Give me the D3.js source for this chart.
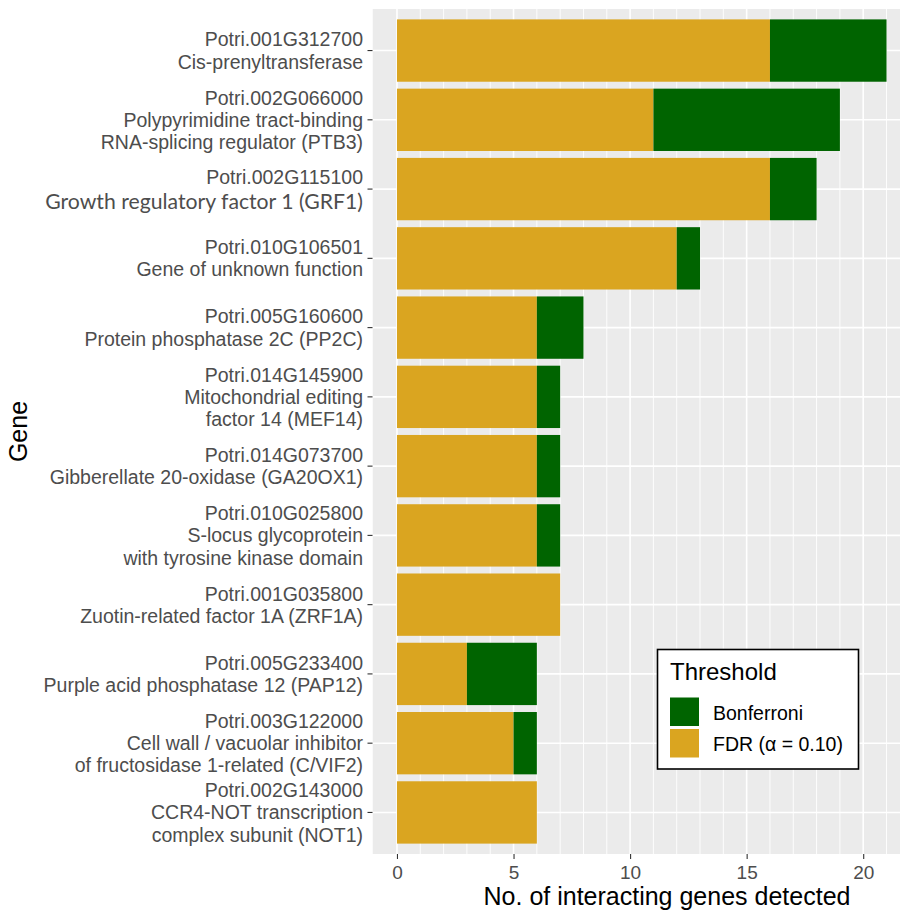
<!DOCTYPE html>
<html>
<head>
<meta charset="utf-8">
<script src="https://cdn.jsdelivr.net/npm/d3@7"></script>
<style>
  html, body { margin: 0; padding: 0; background: #fff; }
  svg { display: block; }
</style>
</head>
<body>
<svg id="chart" width="900" height="910"></svg>
<script>
// Genes, top to bottom, each label split into its display lines
const geneLabels = [
  ["Potri.001G312700", "Cis-prenyltransferase"],
  ["Potri.002G066000", "Polypyrimidine tract-binding", "RNA-splicing regulator (PTB3)"],
  ["Potri.002G115100", "Growth regulatory factor 1 (GRF1)"],
  ["Potri.010G106501", "Gene of unknown function"],
  ["Potri.005G160600", "Protein phosphatase 2C (PP2C)"],
  ["Potri.014G145900", "Mitochondrial editing", "factor 14 (MEF14)"],
  ["Potri.014G073700", "Gibberellate 20-oxidase (GA20OX1)"],
  ["Potri.010G025800", "S-locus glycoprotein", "with tyrosine kinase domain"],
  ["Potri.001G035800", "Zuotin-related factor 1A (ZRF1A)"],
  ["Potri.005G233400", "Purple acid phosphatase 12 (PAP12)"],
  ["Potri.003G122000", "Cell wall / vacuolar inhibitor", "of fructosidase 1-related (C/VIF2)"],
  ["Potri.002G143000", "CCR4-NOT transcription", "complex subunit (NOT1)"]
];
// Interacting genes detected at each threshold
const fdrCounts        = [16, 11, 16, 12, 6, 6, 6, 6, 7, 3, 5, 6];
const bonferroniCounts = [ 5,  8,  2,  1, 2, 1, 1, 1, 0, 3, 1, 0];
const xTicks = [0, 5, 10, 15, 20];
const seriesNames = ["FDR (α = 0.10)", "Bonferroni"];
const seriesColors = ["#DAA520", "#006400"];
const legendTitle = "Threshold";
const xTitle = "No. of interacting genes detected";
const yTitle = "Gene";

const svg = d3.select("#chart");
const panel = { left: 372.5, right: 911, top: 9, bottom: 854 };

const ids = geneLabels.map(d => d[0]);
const rows = ids.map((id, i) => ({ id, fdr: fdrCounts[i], bonf: bonferroniCounts[i] }));

const x = d3.scaleLinear().domain([-1.05, 22.05]).range([panel.left, panel.right]);
const y = d3.scaleBand().domain(ids).range([panel.top, panel.bottom])
  .paddingInner(0.1).paddingOuter(0.15);

const clip = svg.append("defs").append("clipPath").attr("id", "panelClip");
clip.append("rect").attr("x", panel.left).attr("y", panel.top)
  .attr("width", 900 - panel.left).attr("height", panel.bottom - panel.top);

const g = svg.append("g").attr("clip-path", "url(#panelClip)");
g.append("rect")
  .attr("x", panel.left).attr("y", panel.top)
  .attr("width", panel.right - panel.left).attr("height", panel.bottom - panel.top)
  .attr("fill", "#EBEBEB");

// minor and major vertical grid lines
const minor = d3.range(0, 23).filter(v => v % 5 !== 0);
g.selectAll("line.minor").data(minor).join("line")
  .attr("x1", d => x(d)).attr("x2", d => x(d))
  .attr("y1", panel.top).attr("y2", panel.bottom)
  .attr("stroke", "#fff").attr("stroke-width", 0.9);
g.selectAll("line.major").data(xTicks).join("line")
  .attr("x1", d => x(d)).attr("x2", d => x(d))
  .attr("y1", panel.top).attr("y2", panel.bottom)
  .attr("stroke", "#fff").attr("stroke-width", 1.6);
g.selectAll("line.hmajor").data(ids).join("line")
  .attr("x1", panel.left).attr("x2", panel.right)
  .attr("y1", d => y(d) + y.bandwidth() / 2).attr("y2", d => y(d) + y.bandwidth() / 2)
  .attr("stroke", "#fff").attr("stroke-width", 1.6);

// stacked bars: FDR first, Bonferroni stacked after it
const stacked = d3.stack().keys(["fdr", "bonf"])(rows);
g.selectAll("g.layer").data(stacked).join("g")
  .attr("fill", (d, i) => seriesColors[i])
  .selectAll("rect").data(d => d).join("rect")
  .attr("x", d => x(d[0]))
  .attr("width", d => x(d[1]) - x(d[0]))
  .attr("y", d => y(d.data.id))
  .attr("height", y.bandwidth());

// x axis
const xAxis = svg.append("g").attr("transform", `translate(0,${panel.bottom})`)
  .call(d3.axisBottom(x).tickValues(xTicks).tickSize(5).tickPadding(7));
xAxis.select(".domain").remove();
xAxis.selectAll(".tick line").attr("stroke", "#333").attr("stroke-width", 1.1);
xAxis.selectAll(".tick text")
  .attr("font-family", "Liberation Sans, Arial, sans-serif")
  .attr("font-size", 19).attr("fill", "#4D4D4D");

// y axis: tick marks with multi-line labels
const yAxis = svg.append("g").attr("transform", `translate(${panel.left},0)`)
  .call(d3.axisLeft(y).tickSize(5).tickFormat(""));
yAxis.select(".domain").remove();
yAxis.selectAll(".tick line").attr("stroke", "#333").attr("stroke-width", 1.1);

const lineH = 22.3;
const labelG = svg.append("g");
geneLabels.forEach((lines, i) => {
  const cy = y(ids[i]) + y.bandwidth() / 2;
  const n = lines.length;
  // the GRF1 description is set in a larger humanist face, so its block is opened up a little
  const wide = lines.includes("Growth regulatory factor 1 (GRF1)");
  lines.forEach((txt, j) => {
    const shift = wide ? (j === 0 ? -1.2 : 1.8) : 0;
    const t = labelG.append("text")
      .attr("x", 363)
      .attr("y", cy + (j - (n - 1) / 2) * lineH + 7 + shift)
      .attr("text-anchor", "end")
      .attr("fill", "#4D4D4D")
      .attr("font-family", "Liberation Sans, Arial, sans-serif")
      .attr("font-size", 19.5)
      .text(txt);
    if (txt === "Growth regulatory factor 1 (GRF1)") {
      t.attr("font-family", "Lato, sans-serif").attr("font-size", 20);
      const w = t.node().getComputedTextLength();
      t.attr("font-size", 20 * 318 / w);
    }
  });
});

// axis titles
svg.append("text")
  .attr("x", 667).attr("y", 905)
  .attr("text-anchor", "middle")
  .attr("font-family", "Liberation Sans, Arial, sans-serif")
  .attr("font-size", 25).attr("fill", "#000")
  .text(xTitle);
svg.append("text")
  .attr("transform", `translate(27,${(panel.top + panel.bottom) / 2}) rotate(-90)`)
  .attr("text-anchor", "middle")
  .attr("font-family", "Liberation Sans, Arial, sans-serif")
  .attr("font-size", 25).attr("fill", "#000")
  .text(yTitle);

// legend
const lg = svg.append("g");
lg.append("rect")
  .attr("x", 657.5).attr("y", 649.5).attr("width", 201).attr("height", 119.5)
  .attr("fill", "#fff").attr("stroke", "#000").attr("stroke-width", 1.6);
lg.append("text")
  .attr("x", 670).attr("y", 679.5)
  .attr("font-family", "Liberation Sans, Arial, sans-serif")
  .attr("font-size", 24).attr("fill", "#000")
  .text(legendTitle);
const legendOrder = [1, 0];
legendOrder.forEach((si, k) => {
  const top = 697.5 + k * 31.5;
  lg.append("rect")
    .attr("x", 670).attr("y", top).attr("width", 29).attr("height", 28.5)
    .attr("fill", seriesColors[si]);
  lg.append("text")
    .attr("x", 713).attr("y", top + 22)
    .attr("font-family", "Liberation Sans, Arial, sans-serif")
    .attr("font-size", 19.5).attr("fill", "#000")
    .text(seriesNames[si]);
});
</script>
</body>
</html>
